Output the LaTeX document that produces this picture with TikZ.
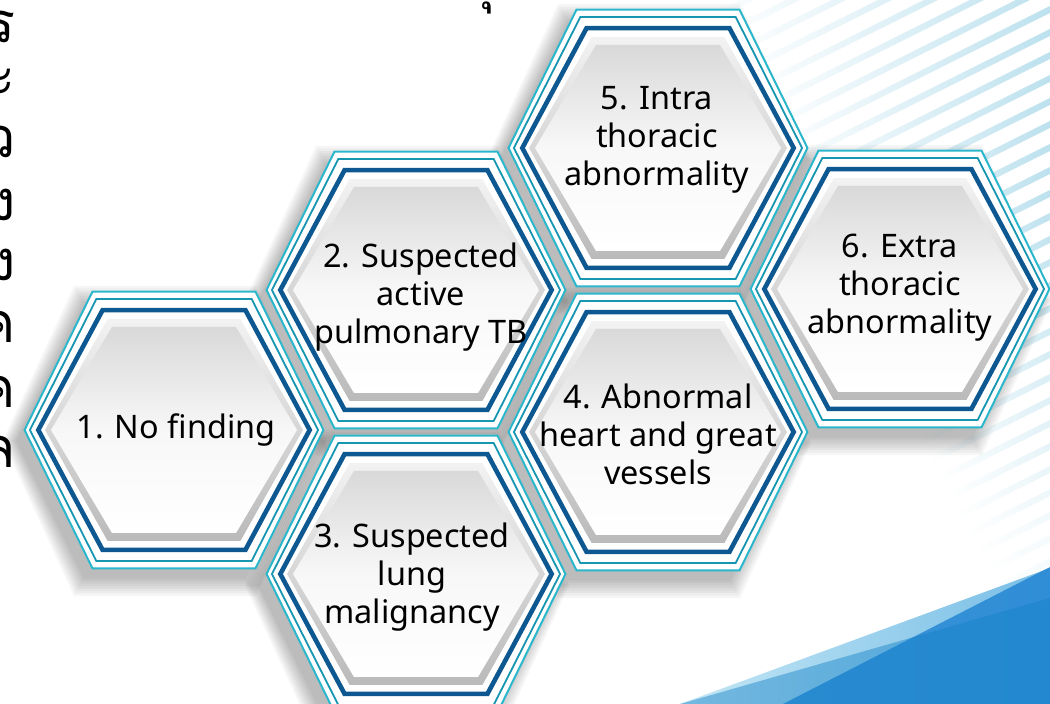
\documentclass[tikz,border=0pt]{standalone}
\usepackage{fontspec}
\setmainfont{Noto Sans}
\newfontfamily\thaifont[Script=Thai]{Loma}
\definecolor{linecyan}{RGB}{43,183,203}
\definecolor{lineteal}{RGB}{22,150,176}
\definecolor{linedark}{RGB}{14,88,146}
\definecolor{stripecol}{RGB}{188,225,238}
\definecolor{bluepale}{RGB}{195,230,245}
\definecolor{bluemid}{RGB}{120,190,230}
\definecolor{bluedeep}{RGB}{30,130,210}
\definecolor{bluedark}{RGB}{20,130,200}
% hexagon outline; #1,#2 centre, #3 inset (0 outer .. 1 face; negative = larger)
\newcommand\hexpath[3]{(#1+150-27*#3,#2) -- (#1+82-20*#3,#2+139-36*#3) -- (#1-82+20*#3,#2+139-36*#3) -- (#1-150+27*#3,#2) -- (#1-82+20*#3,#2-139+36*#3) -- (#1+82-20*#3,#2-139+36*#3) -- cycle}
\newcommand\hexshadow[2]{%
  \foreach \k in {-0.45,-0.38,...,0.05} {
    \fill[hexshade] \hexpath{#1-9}{#2+11}{\k};
  }%
}
\newcommand\hexbody[2]{%
  \fill[white] \hexpath{#1}{#2}{0};
  \draw[cyanline] \hexpath{#1}{#2}{0.02};
  \draw[tealline] \hexpath{#1}{#2}{0.22};
  \draw[darkline] \hexpath{#1}{#2}{0.53};
  \shade[bevel] \hexpath{#1}{#2}{0.78};
  \shade[face] \hexpath{#1}{#2}{1};
}
\tikzset{
  hexshade/.style={black, opacity=0.034},
  cyanline/.style={draw=linecyan, line width=1pt, line join=miter},
  tealline/.style={draw=lineteal, line width=0.9pt, line join=miter},
  darkline/.style={draw=linedark, line width=2.3pt, line join=miter},
  bevel/.style={top color=white!95!black, bottom color=black!27},
  face/.style={top color=black!15, bottom color=white, middle color=white!97!black},
  lbl/.style={align=center, font=\fontsize{16.2}{19}\selectfont, text=black, inner sep=0pt},
  thai/.style={font=\thaifont\fontsize{28}{28}\selectfont, text=black, anchor=east, inner sep=0pt},
}
\begin{document}
\begin{tikzpicture}[x=0.5pt, y=-0.5pt]
\useasboundingbox (0,0) rectangle (1050,704);
\clip (0,0) rectangle (1050,704);
\fill[white] (0,0) rectangle (1050,704);
% diagonal stripes, top right
\foreach \c in {370,393,...,1150} {
  \pgfmathsetmacro\sxl{(700+0.5*\c)/1.25}
  \pgfmathtruncatemacro\sint{max(15,min(100,100-(\c-720)*0.25))}
  \shade[left color=white, right color=stripecol!\sint!white]
    (\sxl,\c-0.5*\sxl) -- (1050,\c-525) -- (1050,\c-518) -- (\sxl,\c-0.5*\sxl+7) -- cycle;
}
% blue shapes, bottom right
\shade[left color=bluepale, right color=bluemid] (680,704) -- (1050,568) -- (1050,704) -- cycle;
\fill[bluedeep, opacity=0.8] (783,704) -- (1050,567) -- (1050,704) -- cycle;
\fill[bluedark, opacity=0.45] (680,704) -- (1050,598) -- (1050,704) -- cycle;
% shadows
\hexshadow{174}{430}
\hexshadow{416}{290}
\hexshadow{416}{574}
\hexshadow{658}{432}
\hexshadow{658}{148}
\hexshadow{900}{289}
% hexagons
\hexbody{174}{430}
\hexbody{416}{290}
\hexbody{416}{574}
\hexbody{658}{432}
\hexbody{658}{148}
\hexbody{900}{289}
% labels
\node[lbl] (h1) at (176,430) {1. No finding};
\node[lbl] (h2) at (421,297) {2. Suspected\\active\\pulmonary TB};
\node[lbl] (h3) at (412,577) {3. Suspected\\lung\\malignancy};
\node[lbl] (h4) at (658,434) {4. Abnormal\\heart and great\\vessels};
\node[lbl] (h5) at (657,140) {5. Intra\\thoracic\\abnormality};
\node[lbl] (h6) at (900,288) {6. Extra\\thoracic\\abnormality};
% cut-off Thai text at the left edge and top
\node[thai] (t1) at (16,27) {ร};
\node[thai] (t2) at (16,82) {ะ};
\node[thai] (t3) at (16,142) {ว};
\node[thai] (t4) at (16,205) {ง};
\node[thai] (t5) at (16,265) {ง};
\node[thai] (t6) at (16,327) {ค};
\node[thai] (t7) at (16,392) {ค};
\node[thai] (t8) at (16,452) {ล};
\node[thai, anchor=base] (t0) at (478,0) {ปุ};
\end{tikzpicture}
\end{document}
